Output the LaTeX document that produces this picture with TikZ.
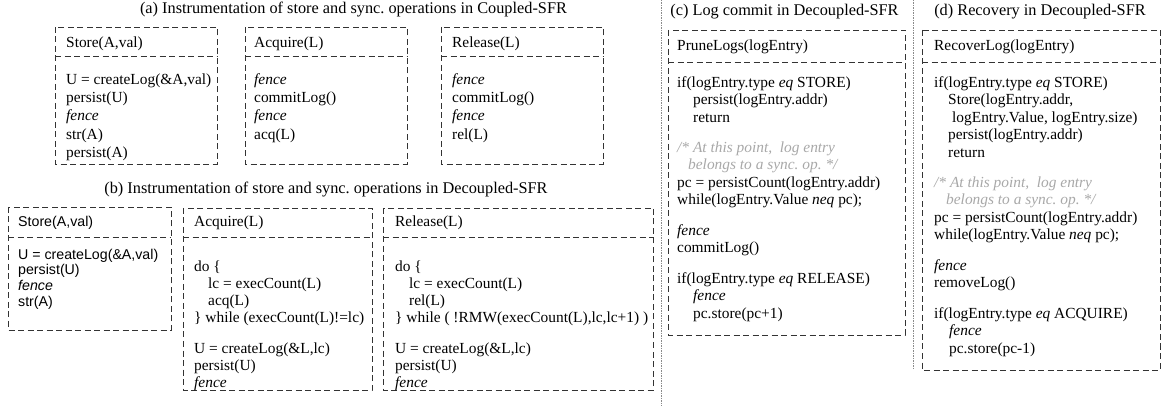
\documentclass[tikz,border=0pt]{standalone}
\usepackage{fontspec}
\setmainfont{Liberation Serif}
\newfontfamily\arialfont{Liberation Sans}
\definecolor{cmtgray}{HTML}{A8A8A8}
\definecolor{framecol}{HTML}{333333}
\definecolor{sepcol}{HTML}{8A8A8A}
\newcommand\codefont{\fontsize{15.4}{17.5}\selectfont\frenchspacing}
\newcommand\codefontA{\fontsize{15.4}{18.3}\selectfont\frenchspacing}
\newcommand\codefontB{\fontsize{15.4}{17.2}\selectfont\frenchspacing}
\newcommand\arialcode{\arialfont\fontsize{14.2}{15.8}\selectfont}
\newcommand\titlefont{\fontsize{16.3}{18}\selectfont\frenchspacing}
\newcommand\fstrut{\rule{0pt}{12pt}}
\newcommand\cmt[1]{\textcolor{cmtgray}{\textit{#1}}}
\newcommand\ind[1]{\hspace*{#1pt}}
\begin{document}
\begin{tikzpicture}[x=1pt,y=-1pt,
  frame/.style={draw=framecol, line width=0.9pt, dash pattern=on 6pt off 3.5pt},
  sepline/.style={draw=sepcol, line width=0.9pt, dash pattern=on 1.5pt off 1pt},
  code/.style={anchor=north west, inner sep=0pt, align=left, font=\codefont},
  head/.style={anchor=base west, inner sep=0pt, font=\codefont},
  ttl/.style={anchor=base, inner sep=0pt, font=\titlefont}]
\useasboundingbox (0,0) rectangle (1163,406);

% separators
\draw[sepline] (661,0) -- (661,406);
\draw[sepline] (913.5,0) -- (913.5,370);

% ---------- (a) ----------
\node[ttl] (ta) at (353.5,14) {(a) Instrumentation of store and sync. operations in Coupled-SFR};

\draw[frame] (55,27) rectangle (217,164);
\draw[frame] (55,56) -- (217,56);
\node[head] (a1h) at (66,48) {Store(A,val)};
\node[code, font=\codefontA] (a1b) at (66,72) {\fstrut U = createLog(\&A,val)\\ persist(U)\\ \textit{fence}\\ str(A)\\ persist(A)};

\draw[frame] (245,27) rectangle (407,164);
\draw[frame] (245,56) -- (407,56);
\node[head] (a2h) at (254,48) {Acquire(L)};
\node[code, font=\codefontA] (a2b) at (254,72) {\fstrut\textit{fence}\\ commitLog()\\ \textit{fence}\\ acq(L)};

\draw[frame] (441,27) rectangle (603,164);
\draw[frame] (441,56) -- (603,56);
\node[head] (a3h) at (452,48) {Release(L)};
\node[code, font=\codefontA] (a3b) at (452,72) {\fstrut\textit{fence}\\ commitLog()\\ \textit{fence}\\ rel(L)};

% ---------- (b) ----------
\node[ttl] (tb) at (326,194) {(b) Instrumentation of store and sync. operations in Decoupled-SFR};

\draw[frame] (8,207) rectangle (171,330);
\draw[frame] (8,237) -- (171,237);
\node[head, font=\arialcode] (b1h) at (18,227) {Store(A,val)};
\node[code, font=\arialcode] (b1b) at (18,247) {\fstrut U = createLog(\&A,val)\\ persist(U)\\ \textit{fence}\\ str(A)};

\draw[frame] (183,208) rectangle (372,390);
\draw[frame] (183,237) -- (372,237);
\node[head] (b2h) at (194,227) {Acquire(L)};
\node[code, font=\codefontB] (b2b) at (194,259) {\fstrut do \{\\ \ind{14}lc = execCount(L)\\ \ind{14}acq(L)\\ \} while (execCount(L)!=lc)\\[13pt] U = createLog(\&L,lc)\\ persist(U)\\ \textit{fence}};

\draw[frame] (383,208) rectangle (653,390);
\draw[frame] (383,237) -- (653,237);
\node[head] (b3h) at (395,227) {Release(L)};
\node[code, font=\codefontB] (b3b) at (395,259) {\fstrut do \{\\ \ind{14}lc = execCount(L)\\ \ind{14}rel(L)\\ \} while ( !RMW(execCount(L),lc,lc+1) )\\[13pt] U = createLog(\&L,lc)\\ persist(U)\\ \textit{fence}};

% ---------- (c) ----------
\node[ttl] (tc) at (784.5,15.5) {(c) Log commit in Decoupled-SFR};
\draw[frame] (668,30) rectangle (905,335);
\draw[frame] (668,62) -- (905,62);
\node[head] (ch) at (677,51) {PruneLogs(logEntry)};
\node[code] (cb) at (677,75) {\fstrut if(logEntry.type \textit{eq} STORE)\\
\ind{16}persist(logEntry.addr)\\
\ind{16}return\\[12.5pt]
\cmt{/* At this point,\ \ log entry}\\
\ind{11}\cmt{belongs to a sync. op. */}\\
pc = persistCount(logEntry.addr)\\
while(logEntry.Value \textit{neq} pc);\\[13pt]
\textit{fence}\\
commitLog()\\[13pt]
if(logEntry.type \textit{eq} RELEASE)\\
\ind{16}\textit{fence}\\
\ind{16}pc.store(pc+1)};

% ---------- (d) ----------
\node[ttl] (td) at (1040,15.5) {(d) Recovery in Decoupled-SFR};
\draw[frame] (922,30) rectangle (1160,370);
\draw[frame] (922,62) -- (1160,62);
\node[head] (dh) at (934,51) {RecoverLog(logEntry)};
\node[code] (db) at (934,75) {\fstrut if(logEntry.type \textit{eq} STORE)\\
\ind{14}Store(logEntry.addr,\\
\ind{18}logEntry.Value, logEntry.size)\\
\ind{14}persist(logEntry.addr)\\
\ind{14}return\\[12.5pt]
\cmt{/* At this point,\ \ log entry}\\
\ind{12}\cmt{belongs to a sync. op. */}\\
pc = persistCount(logEntry.addr)\\
while(logEntry.Value \textit{neq} pc);\\[13pt]
\textit{fence}\\
removeLog()\\[13pt]
if(logEntry.type \textit{eq} ACQUIRE)\\
\ind{15}\textit{fence}\\
\ind{15}pc.store(pc-1)};
\end{tikzpicture}
\end{document}
